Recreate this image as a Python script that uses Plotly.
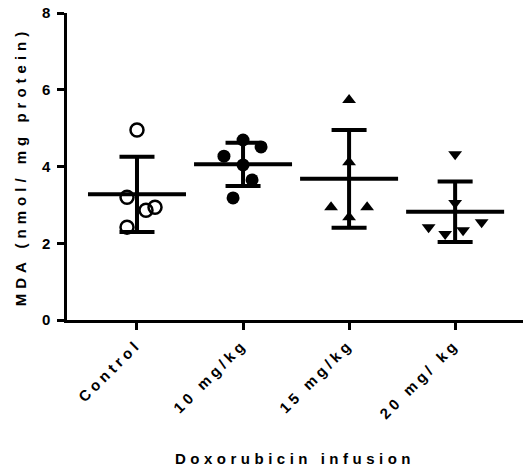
import numpy as np
import plotly.graph_objects as go

categories = ["Control", "10 mg/kg", "15 mg/kg", "20 mg/ kg"]
control = [4.95, 3.20, 2.86, 2.94, 2.42]
dox10 = [4.69, 4.51, 4.27, 4.04, 3.65, 3.18]
dox15 = [5.73, 4.11, 2.94, 2.94, 2.68]
dox20 = [4.32, 3.05, 2.42, 2.24, 2.34, 2.55]
groups = [control, dox10, dox15, dox20]
y_ticks = [0, 2, 4, 6, 8]

# horizontal scatter offsets (category units) to mimic the jittered dot plot
jitter = [
    [0, -0.094, 0.085, 0.17, -0.094],
    [0, 0.17, -0.18, 0, 0.085, -0.094],
    [0, 0, -0.17, 0.17, 0],
    [0, 0, -0.25, -0.094, 0.075, 0.25],
]
symbols = ["circle-open", "circle", "triangle-up", "triangle-down"]

font = "Liberation Sans, Arial, sans-serif"
fig = go.Figure()
for i, (vals, jit, sym) in enumerate(zip(groups, jitter, symbols)):
    fig.add_trace(go.Scatter(
        x=[i + j for j in jit], y=vals, mode="markers",
        marker=dict(symbol=sym, size=13 if "circle" in sym else 12, color="black",
                    line=dict(color="black", width=2.5 if sym == "circle-open" else 0)),
        showlegend=False, hoverinfo="y"))

for i, vals in enumerate(groups):
    arr = np.array(vals)
    m = arr.mean()
    sd = arr.std(ddof=1)
    fig.add_trace(go.Scatter(
        x=[i], y=[m], mode="markers",
        marker=dict(symbol="line-ew", size=70, color="black",
                    line=dict(color="black", width=4)),
        error_y=dict(type="data", array=[sd], visible=True, width=17.5,
                     thickness=4, color="black"),
        showlegend=False))

fig.update_layout(
    width=524, height=472,
    margin=dict(l=67, r=1, t=13, b=152),
    plot_bgcolor="white", paper_bgcolor="white",
    font=dict(family=font, color="black"),
    xaxis=dict(
        range=[-0.66, 3.64], tickmode="array", tickvals=list(range(4)),
        ticktext=categories, tickangle=-45, showgrid=False, zeroline=False,
        showline=True, linecolor="black", linewidth=2.5, automargin=False,
        ticks="outside", ticklen=7, tickwidth=2.5, tickcolor="black",
        tickfont=dict(size=15, family=font, weight="bold"),
        title=dict(text="Doxorubicin infusion", font=dict(size=15, weight="bold"),
                   standoff=58),
    ),
    yaxis=dict(
        range=[0, 8], tickvals=y_ticks, showgrid=False, zeroline=False,
        showline=True, linecolor="black", linewidth=2.5, automargin=False,
        ticks="outside", ticklen=7, tickwidth=2.5, tickcolor="black",
        tickfont=dict(size=15, family=font, weight="bold"),
        title=dict(text="MDA (nmol/ mg protein)", font=dict(size=15, weight="bold"),
                   standoff=16),
    ),
)

spacing_js = """
document.body.style.margin='0';
var gd = document.getElementsByClassName('plotly-graph-div')[0];
gd.querySelectorAll('.xtick text, .ytick text').forEach(function(t){t.style.letterSpacing='4px';});
gd.querySelectorAll('.g-xtitle text').forEach(function(t){t.style.letterSpacing='4.5px';});
gd.querySelectorAll('.g-ytitle text').forEach(function(t){t.style.letterSpacing='5px';});
"""
fig.write_html("out.html", post_script=spacing_js, config={"displayModeBar": False})
